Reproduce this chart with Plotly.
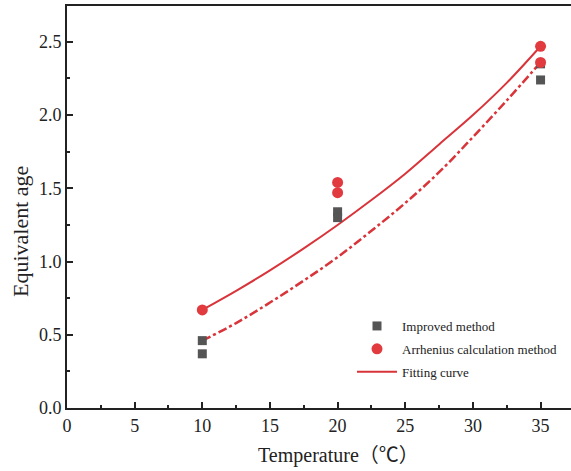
import plotly.graph_objects as go

# Data
improved_x = [10, 10, 20, 20, 35, 35]
improved_y = [0.46, 0.37, 1.34, 1.30, 2.35, 2.24]

arrhenius_x = [10, 20, 20, 35, 35]
arrhenius_y = [0.67, 1.54, 1.47, 2.47, 2.36]

curve_x = [10, 12.5, 15, 17.5, 20, 22.5, 25, 27.5, 30, 32.5, 35]
fit_solid_y = [0.67, 0.80, 0.94, 1.09, 1.25, 1.42, 1.60, 1.80, 2.00, 2.22, 2.47]
fit_dashdot_y = [0.46, 0.58, 0.72, 0.87, 1.03, 1.21, 1.40, 1.61, 1.85, 2.10, 2.36]

x_ticks = [0, 5, 10, 15, 20, 25, 30, 35]
y_ticks = [0.0, 0.5, 1.0, 1.5, 2.0, 2.5]

RED = "#e23b3f"
LINE_RED = "#d8343a"
GRAY = "#555555"
INK = "#222222"
FONT = "Liberation Serif, Times New Roman, Noto Sans CJK SC, serif"

W, H = 571, 471
ML, MR, MT, MB = 67, 0, 6, 63

fig = go.Figure()

fig.add_trace(go.Scatter(
    x=curve_x, y=fit_solid_y, mode="lines", name="Fitting curve",
    line=dict(color=LINE_RED, width=2, shape="spline"), legendrank=3, legendgroup="c",
))
fig.add_trace(go.Scatter(
    x=curve_x, y=fit_dashdot_y, mode="lines", showlegend=False,
    line=dict(color=LINE_RED, width=2.5, dash="dashdot", shape="spline"),
))
fig.add_trace(go.Scatter(
    x=improved_x, y=improved_y, mode="markers", name="Improved method",
    marker=dict(symbol="square", size=9, color=GRAY), legendrank=1, legendgroup="a",
))
fig.add_trace(go.Scatter(
    x=arrhenius_x, y=arrhenius_y, mode="markers", name="Arrhenius calculation method",
    marker=dict(symbol="circle", size=11, color=RED), legendrank=2, legendgroup="b",
))

plot_w = W - ML - MR
plot_h = H - MT - MB

fig.update_layout(
    width=W, height=H,
    margin=dict(l=ML, r=MR, t=MT, b=MB),
    paper_bgcolor="white", plot_bgcolor="white",
    font=dict(family=FONT, size=18, color=INK),
    legend=dict(
        x=(352 - ML) / plot_w, y=(H - MB - 311) / plot_h, xanchor="left", yanchor="top",
        bgcolor="rgba(0,0,0,0)", font=dict(size=13, family=FONT, color=INK),
        tracegroupgap=3, itemwidth=40,
    ),
    showlegend=True,
    annotations=[
        dict(text="Temperature（℃）", xref="paper", yref="paper",
             x=(338 - ML) / plot_w, y=(H - MB - 456) / plot_h,
             xanchor="center", yanchor="middle", showarrow=False,
             font=dict(size=20, family=FONT, color=INK)),
        dict(text="Equivalent age", xref="paper", yref="paper",
             x=(20 - ML) / plot_w, y=(H - MB - 232) / plot_h,
             xanchor="center", yanchor="middle", showarrow=False, textangle=-90,
             font=dict(size=22, family=FONT, color=INK)),
    ],
)

fig.update_xaxes(
    range=[0, 37.25], tickvals=x_ticks, ticktext=[str(v) for v in x_ticks],
    ticks="inside", ticklen=6, tickwidth=1.5, tickcolor=INK,
    minor=dict(ticks="inside", ticklen=3, tickwidth=1.5, dtick=2.5, tick0=0, tickcolor=INK),
    showline=True, linewidth=2, linecolor=INK, mirror=True,
    showgrid=False, zeroline=False,
    tickfont=dict(size=18),
)
fig.update_yaxes(
    range=[0, 2.745], tickvals=y_ticks, ticktext=[f"{v:.1f}" for v in y_ticks],
    ticks="inside", ticklen=6, tickwidth=1.5, tickcolor=INK,
    minor=dict(ticks="inside", ticklen=3, tickwidth=1.5, dtick=0.25, tick0=0, tickcolor=INK),
    showline=True, linewidth=2, linecolor=INK, mirror=False,
    showgrid=False, zeroline=False,
    tickfont=dict(size=18),
)

fig.write_html("out.html")
